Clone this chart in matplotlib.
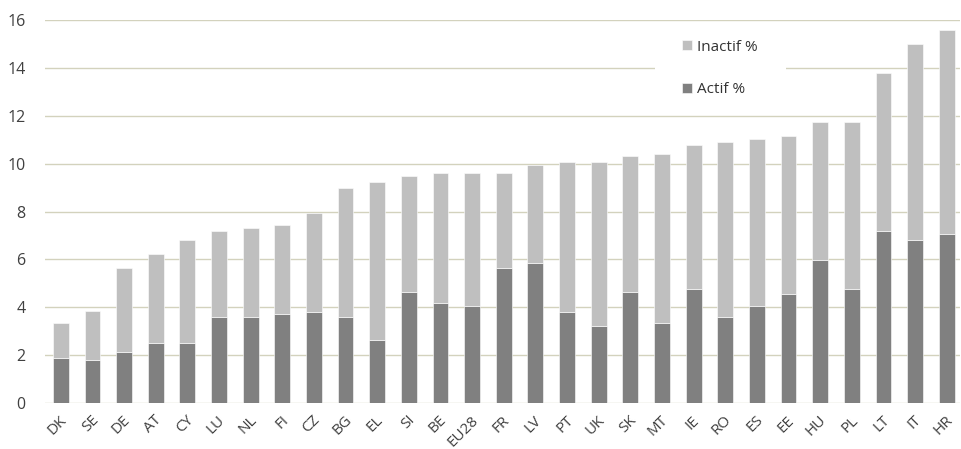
import numpy as np
import matplotlib
matplotlib.use("Agg")
import matplotlib.pyplot as plt
from matplotlib.patches import Rectangle
from matplotlib.transforms import ScaledTranslation

plt.rcParams.update({
    "font.family": ["Open Sans", "DejaVu Sans"],
    "font.size": 11,
})

countries = ["DK", "SE", "DE", "AT", "CY", "LU", "NL", "FI", "CZ", "BG", "EL", "SI",
             "BE", "EU28", "FR", "LV", "PT", "UK", "SK", "MT", "IE", "RO", "ES", "EE",
             "HU", "PL", "LT", "IT", "HR"]
total = [3.35, 3.83, 5.63, 6.22, 6.82, 7.20, 7.30, 7.44, 7.92, 9.00, 9.22, 9.48,
         9.60, 9.60, 9.60, 9.95, 10.07, 10.07, 10.32, 10.42, 10.78, 10.90, 11.01, 11.14,
         11.74, 11.74, 13.78, 14.98, 15.58]
actif = [1.90, 1.78, 2.15, 2.52, 2.52, 3.58, 3.58, 3.70, 3.82, 3.58, 2.62, 4.65,
         4.18, 4.07, 5.62, 5.86, 3.81, 3.23, 4.65, 3.36, 4.76, 3.58, 4.07, 4.54,
         5.99, 4.76, 7.20, 6.82, 7.06]
inactif = [t - a for t, a in zip(total, actif)]

C_ACTIF = "#808080"
C_INACTIF = "#bfbfbf"
GRID = "#d3d2bd"
TXT = "#404040"

fig = plt.figure(figsize=(9.61, 4.49), dpi=100)
ax = fig.add_axes([45 / 961, 1 - 403 / 449, 915 / 961, 383 / 449])

x = np.arange(len(countries))
ax.bar(x, actif, width=0.5, color=C_ACTIF, edgecolor="white", linewidth=0.4,
       label="Actif %", zorder=3)
ax.bar(x, inactif, width=0.5, bottom=actif, color=C_INACTIF, edgecolor="white",
       linewidth=0.4, label="Inactif %", zorder=3)

ax.set_ylim(0, 16)
ax.set_xlim(-0.5, 28.42)
ax.set_yticks(np.arange(0, 17, 2))
ax.grid(True, axis="y", color=GRID, linewidth=1.0, zorder=0)
ax.set_axisbelow(True)
for s in ax.spines.values():
    s.set_visible(False)
ax.tick_params(axis="both", length=0, colors=TXT)
ax.tick_params(axis="y", pad=14, labelsize=11.5)
ax.tick_params(axis="x", pad=7)

ax.set_xticks(x)
ax.set_xticklabels(countries, rotation=45, ha="right", va="top",
                   rotation_mode="anchor", fontsize=11)
offset = ScaledTranslation(-1 / 72, 0, fig.dpi_scale_trans)
for lbl in ax.get_xticklabels():
    lbl.set_transform(lbl.get_transform() + offset)

# white legend area hiding the gridline behind it
ax.add_patch(Rectangle((0.667, 0.78), 0.143, 0.2, transform=ax.transAxes,
                       facecolor="white", edgecolor="none", zorder=1))

handles, labels = ax.get_legend_handles_labels()
leg = ax.legend(handles[::-1], labels[::-1], loc="center left",
                bbox_to_anchor=(0.696, 0.874), frameon=False,
                handlelength=0.65, handleheight=0.65, handletextpad=0.35,
                labelspacing=1.8, borderpad=0, borderaxespad=0,
                fontsize=11)
leg.set_zorder(5)
for t in leg.get_texts():
    t.set_color("#333333")

fig.savefig("out.png", dpi=100)
